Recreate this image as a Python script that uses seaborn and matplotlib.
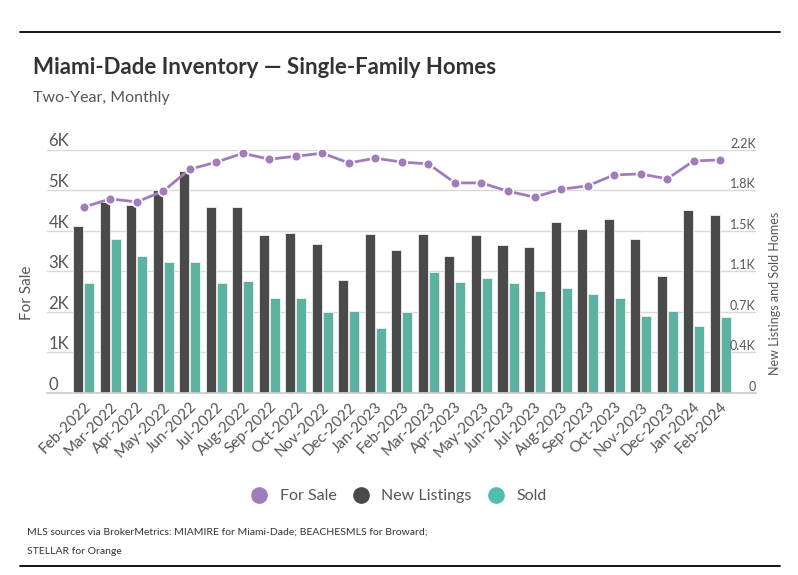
import matplotlib
matplotlib.use("Agg")
import matplotlib.pyplot as plt
from matplotlib.lines import Line2D
import seaborn as sns
import pandas as pd
import numpy as np

months = ["Feb-2022", "Mar-2022", "Apr-2022", "May-2022", "Jun-2022", "Jul-2022", "Aug-2022",
          "Sep-2022", "Oct-2022", "Nov-2022", "Dec-2022", "Jan-2023", "Feb-2023", "Mar-2023",
          "Apr-2023", "May-2023", "Jun-2023", "Jul-2023", "Aug-2023", "Sep-2023", "Oct-2023",
          "Nov-2023", "Dec-2023", "Jan-2024", "Feb-2024"]
for_sale = [4577, 4782, 4708, 4972, 5514, 5687, 5908, 5760, 5834, 5908, 5669, 5785, 5690,
            5645, 5176, 5176, 4972, 4824, 5021, 5102, 5373, 5398, 5275, 5718, 5743]
new_listings = [1507, 1727, 1697, 1832, 2004, 1679, 1679, 1426, 1444, 1344, 1019, 1435, 1290,
                1435, 1236, 1426, 1335, 1317, 1543, 1480, 1570, 1389, 1055, 1652, 1606]
sold = [992, 1389, 1236, 1181, 1181, 992, 1010, 856, 856, 730, 739, 585, 730,
        1091, 1001, 1037, 992, 919, 946, 892, 856, 693, 739, 603, 684]
left_ticks = [0, 1000, 2000, 3000, 4000, 5000, 6000]
left_labels = ["0", "1K", "2K", "3K", "4K", "5K", "6K"]
right_ticks = [0, 366.67, 733.33, 1100, 1466.67, 1833.33, 2200]
right_labels = ["0", "0.4K", "0.7K", "1.1K", "1.5K", "1.8K", "2.2K"]

C_PURPLE = "#a07cbc"
C_DARK = "#4a4a4a"
C_TEAL = "#4fbfaa"
C_TEXT = "#555555"

sns.set_theme(style="white")
plt.rcParams["font.family"] = ["Lato", "DejaVu Sans"]

bars = pd.DataFrame({
    "month": months * 2,
    "value": new_listings + sold,
    "series": ["New Listings"] * len(months) + ["Sold"] * len(months),
})
line = pd.DataFrame({"month": months, "value": for_sale})

fig = plt.figure(figsize=(7.98, 5.75), dpi=100)
ax = fig.add_axes([0.059, 0.317, 0.888, 0.423])

sns.barplot(data=bars, x="month", y="value", hue="series", order=months,
            palette=[C_DARK, C_TEAL], width=0.83, gap=0.09, ax=ax, legend=False,
            linewidth=0.6, edgecolor="#f0f0f0")
ax_l = ax.twinx()
sns.pointplot(data=line, x="month", y="value", order=months, color=C_PURPLE, ax=ax_l,
              markers="o", linewidth=2, markersize=7, markeredgecolor="white",
              markeredgewidth=1.2)

# bars axis: right side (labels drawn inside, above the gridlines)
ax.set_ylim(0, 2200)
ax.set_yticks(right_ticks)
ax.tick_params(axis="y", left=False, right=False, labelleft=False, labelright=False)
ytrans = ax.get_yaxis_transform()
for v, lab in zip(right_ticks, right_labels):
    ax.text(1.0, v, lab, transform=ytrans, ha="right", va="bottom", fontsize=9,
            color=C_TEXT)
ax.yaxis.set_label_position("right")
ax.set_ylabel("New Listings and Sold Homes", fontsize=9, color=C_TEXT)
ax.yaxis.set_label_coords(1.019, 0.41)
ax.grid(axis="y", color="#d9d9d9", linewidth=1)
ax.set_axisbelow(True)
for s in ["top", "left", "right"]:
    ax.spines[s].set_visible(False)
ax.spines["bottom"].set_color("#cccccc")
ax.set_xlabel("")

# line axis: left side
ax_l.set_ylim(0, 6000)
ax_l.yaxis.tick_left()
ax_l.yaxis.set_label_position("left")
ax_l.set_yticks(left_ticks)
ax_l.set_yticklabels(left_labels)
ax_l.tick_params(axis="y", left=False, right=False, labelleft=True, labelright=False,
                 length=0, pad=-1, labelsize=12, labelcolor=C_TEXT)
for t in ax_l.yaxis.get_major_ticks():
    t.label1.set_ha("left")
    t.label1.set_va("bottom")
ax_l.set_ylabel("For Sale", fontsize=11, color=C_TEXT)
ax_l.yaxis.set_label_coords(-0.018, 0.41)
for s in ["top", "left", "right", "bottom"]:
    ax_l.spines[s].set_visible(False)
ax_l.set_xlabel("")
ax_l.grid(False)

ax.set_xlim(-1.38, 25.34)
ax.set_xticks(range(len(months)))
ax.set_xticklabels(months, rotation=45, ha="right", va="top", rotation_mode="anchor",
                   fontsize=11, color=C_TEXT)
ax.tick_params(axis="x", length=0, pad=5)

fig.add_artist(Line2D([0.025, 0.977], [1 - 32 / 575] * 2, color="black", linewidth=1.3))
fig.add_artist(Line2D([0.025, 0.977], [1 - 566 / 575] * 2, color="black", linewidth=1.3))
fig.text(0.041, 1 - 68 / 575, "Miami-Dade Inventory — Single-Family Homes", fontsize=16,
         fontweight="bold", color="#333333", va="center")
fig.text(0.041, 1 - 98 / 575, "Two-Year, Monthly", fontsize=11.5, color=C_TEXT, va="center")

handles = [Line2D([], [], marker="o", linestyle="", markersize=11, color=c)
           for c in [C_PURPLE, C_DARK, C_TEAL]]
fig.legend(handles, ["For Sale", "New Listings", "Sold"], loc="center",
           bbox_to_anchor=(0.495, 1 - 496 / 575), ncol=3, frameon=False, fontsize=11.5,
           handletextpad=0.3, columnspacing=0.5, labelcolor=C_TEXT)

fig.text(0.034, 1 - 532 / 575,
         "MLS sources via BrokerMetrics: MIAMIRE for Miami-Dade; BEACHESMLS for Broward;",
         fontsize=7.5, color="#333333", va="center")
fig.text(0.034, 1 - 552 / 575, "STELLAR for Orange", fontsize=7.5, color="#333333", va="center")

fig.savefig("out.png", dpi=100)
